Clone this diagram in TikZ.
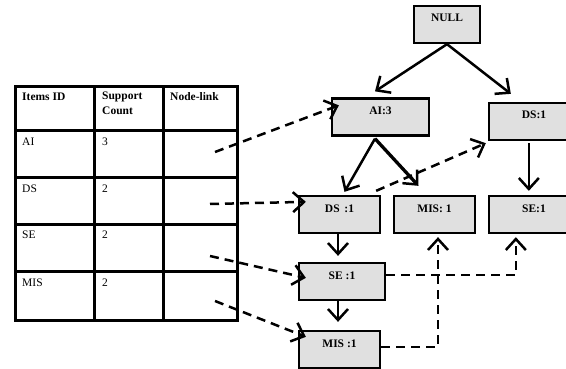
\documentclass[tikz,border=0pt]{standalone}
\usepackage{fontspec}
\setmainfont{Liberation Serif}
\usetikzlibrary{arrows.meta,calc}
\definecolor{boxgray}{RGB}{224,224,224}
\tikzset{
  tbox/.style={draw=black, line width=2.3pt, fill=boxgray, rectangle,
    inner xsep=2pt, inner ysep=4pt, text height=12pt, text depth=17pt,
    font=\fontsize{11.5}{13}\selectfont\bfseries, align=center},
  arr/.style={line width=2.5pt, -{Straight Barb[length=11pt,width=20pt,line width=2.5pt]}},
  darr/.style={line width=2.5pt, dash pattern=on 9pt off 6pt,
    -{Straight Barb[length=11pt,width=20pt,line width=2.5pt]}},
  tabline/.style={line width=3pt},
  thead/.style={anchor=base west, inner sep=0pt, font=\fontsize{11.5}{15}\selectfont\bfseries, align=left},
  tcell/.style={anchor=base west, inner sep=0pt, font=\fontsize{11.5}{13}\selectfont}
}
\begin{document}
\begin{tikzpicture}[x=1pt,y=-1pt]
\useasboundingbox (0,0) rectangle (566,369);
\clip (0,0) rectangle (566,369);

% table
\draw[tabline] (15,87) rectangle (237,320);
\draw[tabline] (94,87) -- (94,320) (163,87) -- (163,320);
\draw[tabline] (15,131) -- (237,131) (15,178) -- (237,178)
  (15,224) -- (237,224) (15,271) -- (237,271);
\node[thead] (h1) at (22,100.5) {Items ID};
\node[thead, anchor=north west] (h2) at (102,91.5) {Support\\Count};
\node[thead] (h3) at (170,100.5) {Node-link};
\node[tcell] (c1) at (22,146) {AI};
\node[tcell] (c2) at (102,146) {3};
\node[tcell] (c3) at (22,193) {DS};
\node[tcell] (c4) at (102,193) {2};
\node[tcell] (c5) at (22,239) {SE};
\node[tcell] (c6) at (102,239) {2};
\node[tcell] (c7) at (22,286) {MIS};
\node[tcell] (c8) at (102,286) {2};
\coordinate (lAI) at (215,152);
\coordinate (lDS) at (210,204);
\coordinate (lSE) at (210,256);
\coordinate (lMIS) at (215,301);

% tree nodes
\node[tbox, minimum width=66pt] (null) at (447,24.5) {NULL};
\node[tbox, minimum width=97pt] (ai) at (380.5,117) {AI:3};
\node[tbox, minimum width=90pt] (dsT) at (534,121.5) {DS:1};
\node[tbox, minimum width=81pt] (ds) at (339.5,214.5) {DS\ \,:1};
\node[tbox, minimum width=81pt] (mis) at (434.5,214.5) {MIS: 1};
\node[tbox, minimum width=90pt] (se) at (534,214.5) {SE:1};
\node[tbox, minimum width=86pt] (sse) at (342,281.5) {SE :1};
\node[tbox, minimum width=81pt] (mis2) at (339.5,349.5) {MIS :1};

% solid arrows
\draw[arr] (null.south) -- ($(ai.north)+(-5.5,-6)$);
\draw[arr] (null.south) -- ($(dsT.north west)+(23,-8)$);
\draw[arr] ($(ai.south)+(-5.5,2)$) -- ($(ds.north)+(5,-3)$);
\draw[arr, line width=3.3pt] ($(ai.south)+(-5.5,2)$) -- ($(mis.north)+(-16,-9)$);
\draw[arr] ($(dsT.south west)+(41,2)$) -- ($(se.north west)+(41,-4)$);
\draw[arr] ($(ds.south)+(-1.5,0)$) -- ($(ds.south |- sse.north)+(-1.5,-6)$);
\draw[arr] ($(sse.south)+(-4,0)$) -- ($(sse.south |- mis2.north)+(-4,-8)$);

% dashed arrows
\draw[darr] (lAI) -- ($(ai.north west)+(8,8)$);
\draw[darr] (lDS) -- ($(ds.north west)+(8,7)$);
\draw[darr] (lSE) -- ($(sse.north west)+(8,16)$);
\draw[darr] (lMIS) -- ($(mis2.north west)+(8,7)$);
\draw[darr] ($(ds.north east)+(-5,-4)$) -- ($(dsT.south west)+(-2,2)$);
\draw[darr] ($(sse.east)+(0,-6.5)$) -| ($(se.south west)+(28,3)$);
\draw[darr] ($(mis2.east)+(0,-2.5)$) -| ($(mis.south)+(3.5,3)$);
\end{tikzpicture}
\end{document}
